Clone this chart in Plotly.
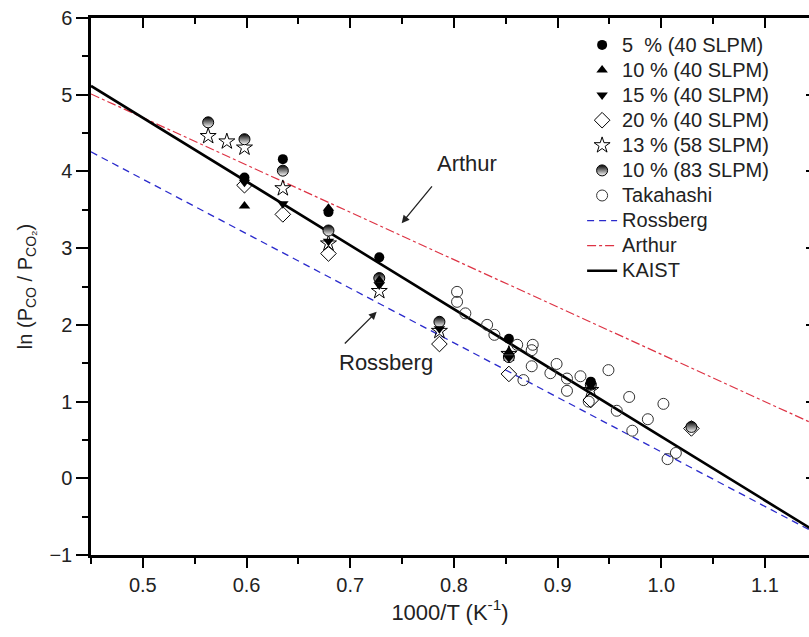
import plotly.graph_objects as go

# ---------------- data ----------------
x_5_40 = [0.598, 0.635, 0.679, 0.728, 0.853, 0.932]
y_5_40 = [3.92, 4.16, 3.47, 2.88, 1.82, 1.26]

x_10_40 = [0.598, 0.679, 0.728, 0.853, 0.932]
y_10_40 = [3.55, 3.52, 2.58, 1.65, 1.19]

x_15_40 = [0.598, 0.635, 0.679, 0.728, 0.786, 0.853, 0.932]
y_15_40 = [3.86, 3.58, 3.09, 2.52, 1.95, 1.57, 1.21]

x_20_40 = [0.598, 0.635, 0.679, 0.786, 0.853, 0.932, 1.029]
y_20_40 = [3.82, 3.44, 2.93, 1.75, 1.36, 1.02, 0.65]

x_13_58 = [0.563, 0.581, 0.598, 0.635, 0.679, 0.728, 0.786, 0.853, 0.932]
y_13_58 = [4.46, 4.39, 4.31, 3.78, 3.06, 2.44, 1.92, 1.62, 1.15]

x_10_83 = [0.563, 0.598, 0.635, 0.679, 0.728, 0.786, 0.853, 0.932, 1.029]
y_10_83 = [4.64, 4.42, 4.01, 3.23, 2.61, 2.04, 1.58, 1.22, 0.67]

x_taka = [0.803, 0.803, 0.811, 0.832, 0.839, 0.861, 0.876, 0.875, 0.875, 0.867,
          0.899, 0.893, 0.909, 0.909, 0.922, 0.949, 0.930, 0.969, 0.957, 0.987,
          0.972, 1.002, 1.014, 1.006]
y_taka = [2.43, 2.30, 2.15, 2.00, 1.87, 1.74, 1.74, 1.67, 1.46, 1.28,
          1.49, 1.37, 1.30, 1.14, 1.33, 1.41, 1.00, 1.06, 0.88, 0.77,
          0.62, 0.97, 0.33, 0.25]

x_line = [0.45, 1.15]
y_rossberg = [4.255, -0.723]
y_arthur = [5.01, 0.69]
y_kaist = [5.115, -0.705]

x_ticks = [0.5, 0.6, 0.7, 0.8, 0.9, 1.0, 1.1]
x_ticklabels = ["0.5", "0.6", "0.7", "0.8", "0.9", "1.0", "1.1"]
y_ticks = [-1, 0, 1, 2, 3, 4, 5, 6]

FONT = "Liberation Sans, Arial, sans-serif"


def lg(txt):
    # legend label rendered a little larger than the row pitch font
    return "<span style='font-size:20px'>" + txt + "</span>"


fig = go.Figure()

# reference lines (drawn first, listed last in legend)
fig.add_trace(go.Scatter(x=x_line, y=y_rossberg, mode="lines", name=lg("Rossberg"),
                         line=dict(color="#2a2acc", width=1.3, dash="7px,5px"),
                         legendrank=8))
fig.add_trace(go.Scatter(x=x_line, y=y_arthur, mode="lines", name=lg("Arthur"),
                         line=dict(color="#dd3344", width=1.2, dash="dashdot"),
                         legendrank=9))
fig.add_trace(go.Scatter(x=x_line, y=y_kaist, mode="lines", name=lg("KAIST"),
                         line=dict(color="black", width=2.6),
                         legendrank=10))

mk_line = dict(color="black", width=1)
fig.add_trace(go.Scatter(x=x_taka, y=y_taka, mode="markers", name=lg("Takahashi"),
                         marker=dict(symbol="circle-open", size=11, color="#333333",
                                     line=dict(width=1)), legendrank=7))
fig.add_trace(go.Scatter(x=x_20_40, y=y_20_40, mode="markers", name=lg("20 % (40 SLPM)"),
                         marker=dict(symbol="diamond-open", size=12, color="black",
                                     line=dict(width=1)), legendrank=4))
fig.add_trace(go.Scatter(x=x_13_58, y=y_13_58, mode="markers", name=lg("13 % (58 SLPM)"),
                         marker=dict(symbol="star-open", size=12, color="black",
                                     line=dict(width=1)), legendrank=5))
fig.add_trace(go.Scatter(x=x_10_83, y=y_10_83, mode="markers", name=lg("10 % (83 SLPM)"),
                         marker=dict(symbol="circle", size=11, color="black",
                                     gradient=dict(type="vertical", color="white"),
                                     line=mk_line), legendrank=6))
fig.add_trace(go.Scatter(x=x_15_40, y=y_15_40, mode="markers", name=lg("15 % (40 SLPM)"),
                         marker=dict(symbol="triangle-down", size=10, color="black"),
                         legendrank=3))
fig.add_trace(go.Scatter(x=x_10_40, y=y_10_40, mode="markers", name=lg("10 % (40 SLPM)"),
                         marker=dict(symbol="triangle-up", size=10, color="black"),
                         legendrank=2))
fig.add_trace(go.Scatter(x=x_5_40, y=y_5_40, mode="markers", name=lg("5\u00a0 % (40 SLPM)"),
                         marker=dict(symbol="circle", size=10, color="black"),
                         legendrank=1))
# helper trace for the mirrored (top / right) axes
fig.add_trace(go.Scatter(x=x_line, y=y_kaist, xaxis="x2", yaxis="y2", mode="lines",
                         line=dict(width=0), opacity=0, showlegend=False, hoverinfo="skip"))

fig.update_layout(
    width=809, height=637,
    margin=dict(l=91, r=0, t=18, b=82),
    paper_bgcolor="white", plot_bgcolor="white",
    font=dict(family=FONT, color="#222222", size=20),
    showlegend=True,
    legend=dict(x=0.684, y=0.9826, xanchor="left", yanchor="top",
                bgcolor="rgba(0,0,0,0)", font=dict(size=17, family=FONT, color="#222222"),
                tracegroupgap=0, itemwidth=30),
    xaxis=dict(range=[0.45, 1.1424], tickvals=x_ticks, ticktext=x_ticklabels,
               ticks="outside", ticklen=10, tickwidth=2, tickcolor="black",
               minor=dict(dtick=0.05, tick0=0.45, ticks="outside", ticklen=6, tickwidth=2, tickcolor="black"),
               showline=True, linewidth=2.5, linecolor="black", showgrid=False, zeroline=False,
               tickfont=dict(size=20, family=FONT),
               title=dict(text="1000/T (K<sup>-1</sup>)", font=dict(size=22, family=FONT), standoff=10)),
    yaxis=dict(range=[-1, 6], tickvals=y_ticks,
               ticks="outside", ticklen=12, tickwidth=2, tickcolor="black",
               minor=dict(dtick=0.5, tick0=-1, ticks="outside", ticklen=6, tickwidth=2, tickcolor="black"),
               showline=True, linewidth=2.5, linecolor="black", showgrid=False, zeroline=False,
               tickfont=dict(size=20, family=FONT),
               title=dict(text="ln (P<sub>CO</sub> / P<sub>CO\u2082</sub>)", font=dict(size=20, family=FONT), standoff=12)),
    xaxis2=dict(overlaying="x", matches="x", side="top", anchor="y",
                tickvals=x_ticks, showticklabels=False,
                ticks="inside", ticklen=10, tickwidth=2, tickcolor="black",
                minor=dict(dtick=0.05, tick0=0.45, ticks="inside", ticklen=6, tickwidth=2, tickcolor="black"),
                showline=True, linewidth=2.5, linecolor="black", showgrid=False, zeroline=False),
    yaxis2=dict(overlaying="y", matches="y", side="right", anchor="x",
                tickvals=y_ticks, showticklabels=False,
                ticks="inside", ticklen=3, tickwidth=2, tickcolor="black",
                showline=False, showgrid=False, zeroline=False),
    annotations=[
        dict(x=0.7496, y=3.325, ax=0.780, ay=3.824, xref="x", yref="y", axref="x", ayref="y",
             text="", showarrow=True, arrowhead=2, arrowsize=1.2, arrowwidth=1.3, arrowcolor="#222222"),
        dict(x=467, y=163, xref="paper", yref="paper", text="Arthur", showarrow=False,
             xanchor="center", yanchor="middle",
             font=dict(size=22, family=FONT, color="#222222")),
        dict(x=0.7255, y=2.172, ax=0.6933, ay=1.738, xref="x", yref="y", axref="x", ayref="y",
             text="", showarrow=True, arrowhead=2, arrowsize=1.2, arrowwidth=1.3, arrowcolor="#222222"),
        dict(x=386, y=362, xref="paper", yref="paper", text="Rossberg", showarrow=False,
             xanchor="center", yanchor="middle",
             font=dict(size=22, family=FONT, color="#222222")),
    ],
)

# convert pixel positions of the two labels into paper coordinates
W_PLOT = 809 - 91
H_PLOT = 637 - 18 - 82
for a in fig.layout.annotations:
    if a.text in ("Arthur", "Rossberg"):
        px, py = a.x, a.y
        a.x = (px - 91) / W_PLOT
        a.y = (637 - 82 - py) / H_PLOT

fig.write_html("out.html")
